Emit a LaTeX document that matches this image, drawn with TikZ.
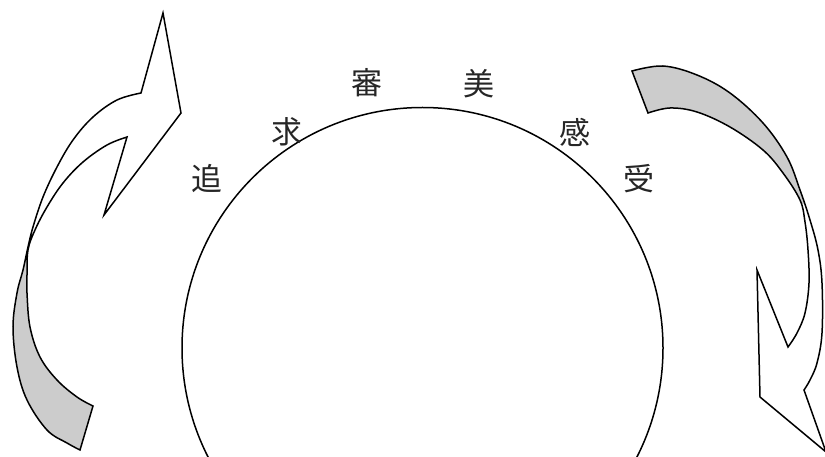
\documentclass[tikz,border=0pt]{standalone}
\usepackage{fontspec}
\newfontfamily\cjk{Noto Sans CJK JP}
\definecolor{band}{RGB}{204,204,204}
\tikzset{
  outline/.style={draw=black, line width=1.5pt, line join=miter},
  glyph/.style={font=\cjk\fontsize{31}{31}\selectfont, inner sep=0pt, text=black!85},
}
\begin{document}
\begin{tikzpicture}[x=1pt, y=-1pt]
\useasboundingbox (0,0) rectangle (825,457);
% big circle
\node[circle, draw, line width=1.5pt, minimum size=481pt, inner sep=0pt] (ring) at (422.5,348) {};
% left arrow outline
\def\leftarrowpath{(141,93) -- (163,13) -- (181,113) -- (104,215) -- (127,137)
  -- plot[smooth, tension=0.6] coordinates {(127,137) (107,145) (83,162) (63,183) (47,207) (35,230) (28,250) (27,275) (27,293) (30,327) (40,357) (57,380) (77,397) (93,406)}
  -- (80,450)
  -- plot[smooth, tension=0.6] coordinates {(80,450) (67,443) (47,430) (27,400) (17,367) (13,327) (17,293) (23,270) (28,247) (33,227) (43,197) (57,167) (73,140) (93,117) (117,100) (141,93)}
  -- cycle}
\fill[white] \leftarrowpath;
\begin{scope}
  \clip (0,243) rectangle (200,460);
  \fill[band] \leftarrowpath;
\end{scope}
\draw[outline] \leftarrowpath;
% right arrow outline
\def\rightarrowpath{(804,390) -- (826,452) -- (760,397) -- (757,270) -- (788,347)
  -- plot[smooth, tension=0.6] coordinates {(788,347) (797,333) (805,313) (809,283) (808,250) (805,222) (800,200) (783,173) (763,150) (730,127) (697,112) (670,108) (648,113)}
  -- (632,71)
  -- plot[smooth, tension=0.6] coordinates {(632,71) (663,66) (697,75) (730,93) (763,123) (787,157) (800,190) (810,220) (818,250) (822,283) (822,333) (817,363) (810,380) (804,390)}
  -- cycle}
\fill[white] \rightarrowpath;
\begin{scope}
  \clip (600,0) rectangle (830,204);
  \fill[band] \rightarrowpath;
\end{scope}
\draw[outline] \rightarrowpath;
% characters
\node[glyph] (c1) at (207,179) {追};
\node[glyph] (c2) at (287,132) {求};
\node[glyph] (c3) at (367,83) {審};
\node[glyph] (c4) at (479,84) {美};
\node[glyph] (c5) at (575,132) {感};
\node[glyph] (c6) at (639,179) {受};
\end{tikzpicture}
\end{document}
